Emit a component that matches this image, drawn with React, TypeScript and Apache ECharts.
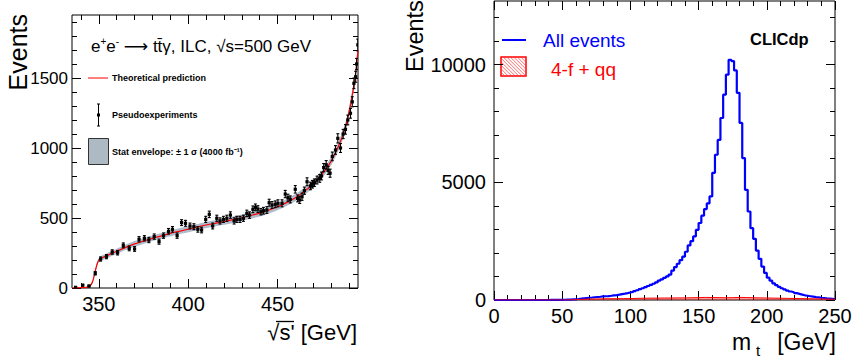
import React, { useEffect, useRef } from "react";
import * as echarts from "echarts";

const FONT = '"Liberation Sans", Arial, Helvetica, sans-serif';

// ---------- Left panel: sqrt(s') spectrum ----------
const LX_MAJOR = [350, 400, 450];
const LX_MINOR = [340, 360, 370, 380, 390, 410, 420, 430, 440, 460, 470, 480, 490];
const LY_MAJOR = [0, 500, 1000, 1500];
const LY_MINOR = [100, 200, 300, 400, 600, 700, 800, 900, 1100, 1200, 1300, 1400, 1600, 1700, 1800, 1900];

// theoretical prediction
const CURVE_X = [335, 340, 343, 345, 346.5, 348, 349, 350, 351, 353, 356, 360, 365, 370, 375, 380, 385, 390, 395, 400, 405, 410, 415, 420, 425, 430, 435, 440, 445, 450, 455, 460, 465, 470, 475, 478, 481, 484, 487, 489, 491, 493, 494, 495];
const CURVE_Y = [0, 2, 5, 15, 45, 120, 170, 200, 212, 222, 240, 262, 290, 315, 335, 355, 372, 390, 405, 420, 435, 450, 462, 475, 488, 502, 518, 535, 555, 580, 610, 645, 690, 745, 815, 865, 930, 1010, 1110, 1200, 1320, 1470, 1570, 1700];
// stat envelope half width (1 sigma)
const ENV = [2, 3, 4, 6, 9, 12, 14, 16, 17, 18, 18, 19, 19, 20, 20, 20, 21, 21, 21, 22, 22, 22, 22, 23, 23, 23, 24, 24, 24, 25, 25, 26, 26, 27, 28, 29, 30, 31, 33, 34, 35, 37, 38, 40];

// pseudoexperiments
const PX = [337, 341, 344.5, 348, 351, 354.3, 357.5, 360.5, 363.7, 367, 370, 372.5, 375.5, 378, 381, 383.7, 386.2, 389, 391.2, 393.8, 396.3, 398.5, 401, 403.2, 405.4, 407.5, 409.8, 411.8, 413.7, 416, 417.8, 419.7, 421.6, 423.6, 425.7, 427.2, 429, 430.9, 432.8, 434.3, 436.2, 437.6, 439, 440.7, 442.1, 444, 445.3, 446.9, 448.7, 450.2, 452.5, 454.3, 455.8, 457.1, 459.9, 461.2, 462.4, 463.7, 465, 466.5, 468.4, 469.5, 470.6, 472.1, 473.6, 474.6, 475.8, 477.2, 478.3, 479.4, 480.6, 482.4, 483.7, 485.2, 486.7, 488, 489.3, 490.8, 491.8, 492.7, 493.7, 494.2, 494.9];
const PY = [5, 20, 14, 105, 207, 224, 257, 252, 305, 283, 279, 348, 355, 343, 367, 331, 374, 405, 419, 374, 467, 462, 443, 438, 419, 414, 490, 526, 443, 498, 479, 490, 498, 521, 479, 490, 490, 498, 533, 521, 562, 576, 564, 545, 552, 557, 609, 593, 598, 605, 605, 671, 645, 633, 705, 640, 629, 652, 695, 759, 729, 741, 752, 771, 783, 800, 860, 880, 840, 820, 940, 986, 1069, 1000, 1100, 1133, 1200, 1248, 1330, 1462, 1509, 1600, 1736];
const PERR = [5, 6, 6, 12, 15, 15, 16, 16, 17, 17, 17, 19, 19, 19, 19, 18, 19, 20, 20, 19, 21, 21, 21, 21, 20, 20, 22, 23, 21, 22, 22, 22, 22, 23, 22, 22, 22, 22, 23, 23, 24, 24, 24, 23, 24, 24, 25, 24, 24, 25, 25, 26, 25, 25, 27, 25, 25, 26, 26, 28, 27, 27, 27, 28, 28, 28, 29, 30, 29, 29, 31, 31, 33, 32, 33, 34, 35, 35, 36, 38, 39, 40, 42];

// ---------- Right panel: m_t histogram ----------
const RX_MAJOR = [0, 50, 100, 150, 200, 250];
const RX_MINOR = [10, 20, 30, 40, 60, 70, 80, 90, 110, 120, 130, 140, 160, 170, 180, 190, 210, 220, 230, 240];
const RY_MAJOR = [0, 5000, 10000];
const RY_MINOR = [1000, 2000, 3000, 4000, 6000, 7000, 8000, 9000, 11000, 12000];

const ALL_BIN_WIDTH = 2; // GeV
const ALL_EVENTS = [
  0, 0, 0, 0, 0, 0, 0, 0, 0, 0, 0, 0, 0, 0, 0, 0, 0, 0, 0, 0,
  2, 3, 4, 6, 8, 10, 14, 18, 24, 30,
  42, 55, 70, 85, 95, 105, 118, 128, 138, 150,
  160, 168, 180, 195, 210, 228, 250, 272, 295, 320,
  345, 380, 415, 460, 500, 545, 595, 640, 690, 745,
  820, 880, 940, 1000, 1080, 1250, 1400, 1540, 1690, 1840,
  2050, 2320, 2500, 2700, 2980, 3270, 3580, 3860, 4100, 4400,
  5400, 6170, 6800, 7730, 8720, 9570, 10200, 10150, 9750, 8800,
  7520, 6030, 4680, 3760, 3050, 2600, 2100, 1750, 1420, 1150,
  950, 820, 710, 630, 560, 500, 450, 400, 360, 330,
  290, 260, 230, 200, 180, 160, 140, 120, 110, 95,
  85, 70, 60, 50, 40,
];
const BKG_BIN_WIDTH = 5; // GeV
const BKG_EVENTS = [
  0, 0, 0, 0, 0, 0, 0, 0, 0, 0,
  5, 15, 30, 40, 45, 50, 55, 55, 60, 60,
  70, 75, 80, 80, 85, 85, 90, 90, 95, 100,
  110, 105, 100, 95, 100, 110, 105, 95, 90, 85,
  80, 75, 70, 65, 60, 55, 50, 45, 40, 35,
];

function stepData(counts: number[], width: number) {
  const d: number[][] = counts.map((v, i) => [i * width, v]);
  d.push([counts.length * width, counts[counts.length - 1]]);
  return d;
}

function makeAxes(dim: "x" | "y", grid: number, min: number, max: number, majors: number[], minors: number[], labelSize: number, margin: number) {
  const first = dim === "x" ? "bottom" : "left";
  const second = dim === "x" ? "top" : "right";
  const base: any = {
    type: "value",
    gridIndex: grid,
    min,
    max,
    splitLine: { show: false },
    axisLine: { show: false, onZero: false },
  };
  const tick = (vals: number[], len: number) => ({
    show: true,
    inside: true,
    length: len,
    customValues: vals,
    lineStyle: { color: "#000", width: 1 },
  });
  return [
    {
      ...base,
      position: first,
      axisTick: tick(majors, 9),
      axisLabel: {
        show: true,
        customValues: majors,
        fontSize: labelSize,
        fontFamily: FONT,
        color: "#000",
        margin,
        formatter: (v: number) => String(v),
      },
    },
    { ...base, position: second, axisTick: tick(majors, 9), axisLabel: { show: false } },
    { ...base, position: first, axisTick: tick(minors, 5), axisLabel: { show: false } },
    { ...base, position: second, axisTick: tick(minors, 5), axisLabel: { show: false } },
  ];
}

function hatchLines(x0: number, y0: number, w: number, h: number, gap: number) {
  const x1 = x0 + w;
  const y1 = y0 + h;
  const out: any[] = [];
  for (let c = y0 - x1 + gap / 2; c <= y1 - x0; c += gap) {
    const sx = Math.max(x0, y0 - c);
    const ex = Math.min(x1, y1 - c);
    if (ex > sx) {
      out.push({
        type: "line",
        shape: { x1: sx, y1: sx + c, x2: ex, y2: ex + c },
        style: { stroke: "#ff3030", lineWidth: 0.7 },
      });
    }
  }
  return out;
}

export default function App() {
  const ref = useRef<HTMLDivElement>(null);

  useEffect(() => {
    if (!ref.current) return;
    const chart = echarts.init(ref.current, undefined, { renderer: "svg", width: 853, height: 360 });

    const xAxes = [
      ...makeAxes("x", 0, 335, 495, LX_MAJOR, LX_MINOR, 20, 6),
      ...makeAxes("x", 1, 0, 250, RX_MAJOR, RX_MINOR, 20, 6),
    ];
    const yAxes = [
      ...makeAxes("y", 0, 0, 1950, LY_MAJOR, LY_MINOR, 17, 4),
      ...makeAxes("y", 1, 0, 12700, RY_MAJOR, RY_MINOR, 20, 8),
    ];

    const option: any = {
      animation: false,
      backgroundColor: "#ffffff",
      grid: [
        { left: 72, top: 15, width: 286, height: 273, show: true, borderColor: "#000", borderWidth: 1, backgroundColor: "transparent", outerBoundsMode: "none" },
        { left: 494, top: 1, width: 341, height: 299, show: true, borderColor: "#000", borderWidth: 1, backgroundColor: "transparent", outerBoundsMode: "none" },
      ],
      xAxis: xAxes,
      yAxis: yAxes,
      series: [
        {
          name: "Stat envelope",
          type: "custom",
          xAxisIndex: 0,
          yAxisIndex: 0,
          clip: true,
          data: [[CURVE_X[0], CURVE_Y[0]]],
          encode: { x: 0, y: 1 },
          renderItem: (params: any, api: any) => {
            const pts: number[][] = [];
            for (let i = 0; i < CURVE_X.length; i++) pts.push(api.coord([CURVE_X[i], CURVE_Y[i] + ENV[i]]));
            for (let i = CURVE_X.length - 1; i >= 0; i--) pts.push(api.coord([CURVE_X[i], Math.max(0, CURVE_Y[i] - ENV[i])]));
            return { type: "polygon", shape: { points: pts, smooth: 0.2 }, style: { fill: "#aebccb", stroke: "none" } };
          },
          z: 1,
        },
        {
          name: "Theoretical prediction",
          type: "line",
          xAxisIndex: 0,
          yAxisIndex: 0,
          data: CURVE_X.map((x, i) => [x, CURVE_Y[i]]),
          smooth: 0.3,
          showSymbol: false,
          lineStyle: { color: "#ff0000", width: 1.2 },
          z: 2,
        },
        {
          name: "Pseudoexperiments",
          type: "custom",
          xAxisIndex: 0,
          yAxisIndex: 0,
          clip: true,
          data: PX.map((x, i) => [x, PY[i], PERR[i]]),
          encode: { x: 0, y: 1 },
          renderItem: (params: any, api: any) => {
            const x = api.value(0);
            const y = api.value(1);
            const e = api.value(2);
            const c = api.coord([x, y]);
            const lo = api.coord([x, Math.max(0, y - e)]);
            const hi = api.coord([x, y + e]);
            const st = { stroke: "#000", lineWidth: 1.1 };
            return {
              type: "group",
              children: [
                { type: "line", shape: { x1: c[0], y1: lo[1], x2: c[0], y2: hi[1] }, style: st },
                { type: "line", shape: { x1: c[0] - 1.5, y1: lo[1], x2: c[0] + 1.5, y2: lo[1] }, style: st },
                { type: "line", shape: { x1: c[0] - 1.5, y1: hi[1], x2: c[0] + 1.5, y2: hi[1] }, style: st },
                { type: "rect", shape: { x: c[0] - 1.6, y: c[1] - 1.6, width: 3.2, height: 3.2 }, style: { fill: "#000" } },
              ],
            };
          },
          z: 3,
        },
        {
          name: "All events",
          type: "line",
          xAxisIndex: 4,
          yAxisIndex: 4,
          step: "end",
          data: stepData(ALL_EVENTS, ALL_BIN_WIDTH),
          showSymbol: false,
          lineStyle: { color: "#0000ff", width: 2.2 },
          z: 2,
        },
        {
          name: "4-f + qq",
          type: "line",
          xAxisIndex: 4,
          yAxisIndex: 4,
          step: "end",
          data: stepData(BKG_EVENTS, BKG_BIN_WIDTH),
          showSymbol: false,
          lineStyle: { color: "#ff0000", width: 1 },
          areaStyle: { color: "rgba(255,0,0,0.55)" },
          z: 3,
        },
      ],
      graphic: [
        // left panel title
        {
          type: "text",
          x: 91,
          y: 46,
          style: {
            text: "{a|e}{s|+}{a|e}{s|-}{a| }{r|\u27f6}{a| tt\u0304\u03b3, ILC, \u221as=500 GeV}",
            verticalAlign: "middle",
            rich: {
              a: { fontSize: 17, fontFamily: FONT, fill: "#000", lineHeight: 20 },
              r: { fontSize: 17, fontFamily: '"DejaVu Sans", sans-serif', fill: "#000", lineHeight: 20 },
              s: { fontSize: 10, fontFamily: FONT, fill: "#000", lineHeight: 10, verticalAlign: "top" },
            },
          },
        },
        // legend: theoretical prediction
        { type: "line", shape: { x1: 88, y1: 78, x2: 108, y2: 78 }, style: { stroke: "#ff0000", lineWidth: 1 } },
        { type: "text", x: 112, y: 78, style: { text: "Theoretical prediction", fontSize: 9, fontWeight: "bold", fontFamily: FONT, fill: "#000", verticalAlign: "middle" } },
        // legend: pseudoexperiments
        { type: "line", shape: { x1: 98.5, y1: 104, x2: 98.5, y2: 126 }, style: { stroke: "#000", lineWidth: 1 } },
        { type: "line", shape: { x1: 97, y1: 104, x2: 100, y2: 104 }, style: { stroke: "#000", lineWidth: 1 } },
        { type: "line", shape: { x1: 97, y1: 126, x2: 100, y2: 126 }, style: { stroke: "#000", lineWidth: 1 } },
        { type: "rect", shape: { x: 97, y: 113.5, width: 3, height: 3 }, style: { fill: "#000" } },
        { type: "text", x: 112, y: 115, style: { text: "Pseudoexperiments", fontSize: 9, fontWeight: "bold", fontFamily: FONT, fill: "#000", verticalAlign: "middle" } },
        // legend: stat envelope
        { type: "rect", shape: { x: 88.5, y: 138.5, width: 20, height: 26 }, style: { fill: "#adbac3", stroke: "#333", lineWidth: 1 } },
        { type: "text", x: 112, y: 152, style: { text: "Stat envelope: \u00b1 1 \u03c3 (4000 fb\u207b\u00b9)", fontSize: 9, fontWeight: "bold", fontFamily: FONT, fill: "#000", verticalAlign: "middle" } },
        // left axis titles
        { type: "text", x: 18, y: 14, rotation: Math.PI / 2, style: { text: "Events", fontSize: 25, fontFamily: FONT, fill: "#000", align: "right", verticalAlign: "middle" } },
        { type: "text", x: 357, y: 343, style: { text: "\u221as' [GeV]", fontSize: 22, fontFamily: FONT, fill: "#000", align: "right", verticalAlign: "bottom" } },
        { type: "line", shape: { x1: 276, y1: 321.5, x2: 294, y2: 321.5 }, style: { stroke: "#000", lineWidth: 1.3 } },

        // right legend
        { type: "line", shape: { x1: 502, y1: 40, x2: 526, y2: 40 }, style: { stroke: "#0000ff", lineWidth: 2 } },
        { type: "text", x: 543, y: 40, style: { text: "All events", fontSize: 19, fontFamily: FONT, fill: "#0000ff", verticalAlign: "middle" } },
        { type: "rect", shape: { x: 501, y: 57, width: 25, height: 19 }, style: { fill: "#ffffff", stroke: "#ff0000", lineWidth: 1.5 } },
        ...hatchLines(501, 57, 25, 19, 3.5),
        { type: "text", x: 551, y: 69, style: { text: "4-f + qq", fontSize: 19, fontFamily: FONT, fill: "#ff0000", verticalAlign: "middle" } },
        { type: "text", x: 750, y: 39, style: { text: "CLICdp", fontSize: 16.5, fontWeight: "bold", fontFamily: FONT, fill: "#000", verticalAlign: "middle" } },
        // right axis titles
        { type: "text", x: 415, y: 72, rotation: Math.PI / 2, style: { text: "Events", fontSize: 23.5, fontFamily: FONT, fill: "#000", align: "left", verticalAlign: "middle" } },
        { type: "text", x: 732, y: 353, style: { text: "m", fontSize: 23, fontFamily: FONT, fill: "#000", align: "left", verticalAlign: "bottom" } },
        { type: "text", x: 756, y: 358, style: { text: "t", fontSize: 15, fontFamily: FONT, fill: "#000", align: "left", verticalAlign: "bottom" } },
        { type: "text", x: 836, y: 353, style: { text: "[GeV]", fontSize: 23, fontFamily: FONT, fill: "#000", align: "right", verticalAlign: "bottom" } },
      ],
    };

    chart.setOption(option);
    return () => chart.dispose();
  }, []);

  return (
    <div
      ref={ref}
      style={{ position: "absolute", left: 0, top: 0, width: 853, height: 360, background: "#fff" }}
    />
  );
}
